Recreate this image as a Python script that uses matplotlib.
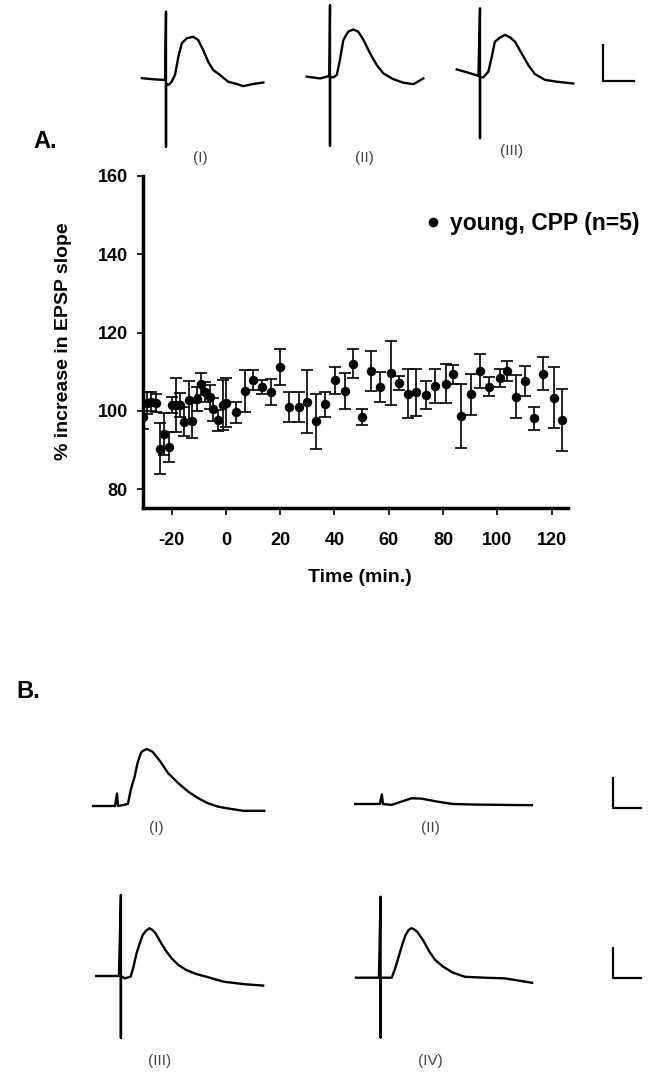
import matplotlib
matplotlib.use('Agg')
import matplotlib.pyplot as plt
from matplotlib.lines import Line2D

plt.rcParams['font.family'] = ['Liberation Sans', 'DejaVu Sans']
plt.rcParams['axes.unicode_minus'] = False

# EPSP slope time course, young + CPP (n=5)
time_min = [-30.4, -29.1, -27.5, -25.7, -24.2, -22.6, -21.0, -19.9, -18.3, -16.8,
            -15.4, -13.6, -12.3, -10.6, -9.3, -7.5, -5.9, -4.7, -2.8, -1.2,
            0.0, 3.7, 7.0, 10.1, 13.2, 16.7, 20.0, 23.3, 26.8, 29.9,
            33.2, 36.7, 40.2, 43.7, 46.9, 50.0, 53.6, 56.8, 60.7, 63.8,
            66.9, 70.2, 73.7, 77.0, 81.1, 83.8, 86.7, 90.1, 93.5, 96.9,
            101.1, 103.7, 106.7, 110.1, 113.6, 116.9, 121.0, 123.7]
epsp_pct = [98.5, 102.1, 102.4, 101.9, 90.3, 94.1, 90.8, 101.5, 101.5, 101.5,
            97.2, 102.7, 97.5, 103.0, 106.9, 104.9, 103.6, 100.4, 97.6, 101.5,
            102.1, 99.6, 105.1, 107.9, 106.2, 104.8, 111.2, 101.0, 101.0, 102.4,
            97.3, 101.7, 107.8, 105.1, 112.0, 98.5, 110.2, 106.2, 109.6, 107.2,
            104.4, 104.8, 104.1, 106.4, 106.9, 109.3, 98.7, 104.2, 110.2, 106.2,
            108.3, 110.2, 103.6, 107.6, 98.1, 109.5, 103.4, 97.6]
epsp_sem = [3.0, 2.8, 2.5, 2.3, 6.5, 5.3, 3.8, 2.0, 6.8, 3.0,
            3.7, 5.0, 4.5, 3.0, 2.8, 2.5, 3.0, 3.0, 2.7, 6.4,
            6.2, 2.6, 5.3, 2.6, 1.8, 3.3, 4.5, 3.9, 3.9, 8.1,
            7.0, 3.2, 3.5, 4.6, 3.7, 2.0, 5.0, 3.8, 8.2, 1.8,
            6.2, 6.0, 3.6, 4.3, 5.0, 2.5, 8.2, 5.3, 4.3, 2.5,
            2.3, 2.6, 5.5, 3.9, 3.0, 4.2, 7.8, 7.9]

# sample traces: ms from stimulus, mV from baseline
a1_t = [-7.8, -4.1, -0.3, 0.0, 0.0, 0.0, 0.75, 1.8, 2.9, 4.0, 5.1, 6.7, 8.8, 10.4, 12.0,
        13.6, 15.2, 17.4, 20.1, 22.8, 24.9, 28.2, 31.4]
a1_v = [0.05, 0.02, 0.0, 1.9, -1.85, -0.1, -0.14, -0.05, 0.14, 0.65, 1.02, 1.16, 1.2, 1.11,
        0.83, 0.51, 0.28, 0.14, -0.05, -0.11, -0.17, -0.11, -0.07]
a2_t = [-7.5, -3.2, -0.2, 0.0, 0.0, 0.0, 1.1, 2.2, 3.2, 4.3, 5.9, 7.5, 9.1, 10.8, 12.9,
        15.1, 17.2, 20.4, 23.7, 26.9, 30.1]
a2_v = [0.01, -0.04, 0.03, 2.0, -1.91, 0.0, -0.01, 0.06, 0.47, 1.03, 1.26, 1.32, 1.26, 1.03,
        0.66, 0.33, 0.1, -0.06, -0.16, -0.2, -0.04]
a3_t = [-7.5, -3.8, -0.5, 0.0, 0.0, 0.0, 1.1, 2.7, 3.8, 4.8, 6.5, 8.1, 9.7, 11.3, 13.4,
        15.6, 17.7, 21.0, 24.7, 30.1]
a3_v = [0.21, 0.12, 0.03, 1.91, -1.7, 0.0, -0.01, 0.15, 0.56, 0.98, 1.1, 1.17, 1.1, 0.98,
        0.66, 0.33, 0.08, -0.08, -0.13, -0.18]
b1_t = [-8.5, -0.7, 0.0, 0.36, 2.1, 3.9, 4.9, 6.3, 7.3, 8.5, 9.1, 10.6, 12.7, 15.5, 18.3,
        21.9, 25.4, 29.0, 32.5, 36.0, 39.5, 45.1, 52.6]
b1_v = [0.0, 0.0, 0.42, 0.0, 0.03, 0.07, 0.53, 0.98, 1.42, 1.76, 1.83, 1.9, 1.81, 1.48, 1.09,
        0.76, 0.48, 0.26, 0.09, -0.02, -0.08, -0.16, -0.16]
b2_t = [-9.9, -0.7, 0.0, 0.43, 3.5, 7.0, 10.6, 14.1, 19.8, 25.4, 33.9, 53.6]
b2_v = [0.0, 0.0, 0.32, 0.0, -0.03, 0.08, 0.19, 0.18, 0.08, 0.0, -0.02, -0.04]
b3_t = [-8.8, -0.7, 0.0, 0.0, 0.0, 1.4, 3.5, 4.5, 5.6, 6.8, 7.8, 9.2, 10.2, 11.3, 12.4,
        14.1, 16.3, 18.4, 20.5, 23.3, 26.8, 31.1, 36.7, 43.8, 50.8]
b3_v = [0.0, 0.0, 2.7, -2.06, 0.0, -0.08, -0.02, 0.31, 0.76, 1.11, 1.37, 1.53, 1.59, 1.53,
        1.42, 1.14, 0.81, 0.56, 0.37, 0.2, 0.07, -0.04, -0.19, -0.27, -0.32]
b4_t = [-8.8, -0.6, 0.0, 0.0, 0.0, 4.0, 5.4, 6.8, 7.9, 8.9, 10.0, 11.0, 12.0, 13.1, 15.3,
        17.4, 19.5, 22.3, 25.8, 30.1, 37.1, 44.2, 54.1]
b4_v = [0.0, 0.0, 2.7, -1.99, 0.0, 0.0, 0.37, 0.81, 1.15, 1.42, 1.59, 1.65, 1.61, 1.53, 1.23,
        0.87, 0.59, 0.37, 0.17, 0.03, 0.0, -0.02, -0.17]

# scale bars: 10 ms, 1 mV
bar_t = [0, 0, 10]
bar_v = [1, 0, 0]

W, H = 663, 1079
fig = plt.figure(figsize=(W / 100, H / 100), dpi=100)


def px_box(left, top, w, h):
    return [left / W, 1 - (top + h) / H, w / W, h / H]


def trace_ax(x0, y0, xpx, ypx, xlim, ylim):
    # x0,y0 = pixel position of (0 ms, 0 mV)
    w = (xlim[1] - xlim[0]) * xpx
    h = (ylim[1] - ylim[0]) * ypx
    ax = fig.add_axes(px_box(x0 + xlim[0] * xpx, y0 - ylim[1] * ypx, w, h))
    ax.set_xlim(xlim)
    ax.set_ylim(ylim)
    ax.axis('off')
    return ax


# ---- top sample traces
a_lim = ((-10, 35), (-2.2, 2.2))
for t, v, x0, y0 in [(a1_t, a1_v, 166, 80), (a2_t, a2_v, 330, 77), (a3_t, a3_v, 480, 77)]:
    tx = trace_ax(x0, y0, 3.1, 36, *a_lim)
    tx.plot(t, v, color='k', lw=1.7)
sb = trace_ax(603, 80.7, 3.1, 36, (-1, 11), (-0.2, 1.2))
sb.plot(bar_t, bar_v, color='k', lw=1.6)

lab_kw = dict(fontsize=11, color='#444444', ha='center', va='center')
for s, x, y in [('(I)', 200, 158), ('(II)', 364, 158), ('(III)', 512, 151)]:
    fig.text(x / W, 1 - y / H, s, **lab_kw)

fig.text(45 / W, 1 - 141 / H, 'A.', fontsize=17, fontweight='bold', ha='center', va='center')

# ---- time course
ax = fig.add_axes(px_box(143, 176, 425, 332))
ax.errorbar(time_min, epsp_pct, yerr=epsp_sem, fmt='o', color='k', ms=5.8,
            ecolor='k', elinewidth=1.2, capsize=4, capthick=1.2)
ax.set_xlim(-30.5, 126)
ax.set_ylim(75.2, 160)
ax.set_xticks(range(-20, 121, 20))
ax.set_yticks(range(80, 161, 20))
for s in ['top', 'right']:
    ax.spines[s].set_visible(False)
for s in ['left', 'bottom']:
    ax.spines[s].set_linewidth(2.5)
ax.tick_params(axis='x', direction='out', length=5, width=1.2, labelsize=13, pad=12)
ax.tick_params(axis='y', direction='out', length=4, width=1.2, labelsize=13, pad=7)
for lab in ax.get_xticklabels() + ax.get_yticklabels():
    lab.set_fontweight('bold')

fig.text(64 / W, 1 - 341 / H, '% increase in EPSP slope', rotation=90, fontsize=14,
         fontweight='bold', ha='center', va='center')
fig.text(360 / W, 1 - 577 / H, 'Time (min.)', fontsize=14, fontweight='bold',
         ha='center', va='center')

handle = Line2D([], [], marker='o', ls='none', color='k', ms=6)
ax.legend([handle], ['young, CPP (n=5)'], loc='center left', frameon=False,
          bbox_to_anchor=(423 / W, 1 - 224 / H), bbox_transform=fig.transFigure,
          prop={'weight': 'bold', 'size': 16.5}, handlelength=0.9, handletextpad=0.3,
          borderaxespad=0, borderpad=0)

# ---- panel B traces
fig.text(28 / W, 1 - 692 / H, 'B.', fontsize=17, fontweight='bold', ha='center', va='center')
b_lim = ((-10, 56), (-2.3, 2.9))
for t, v, x0, y0 in [(b1_t, b1_v, 117, 806), (b2_t, b2_v, 381.8, 804),
                     (b3_t, b3_v, 120.9, 976), (b4_t, b4_v, 380.6, 977.7)]:
    tx = trace_ax(x0, y0, 2.8, 30, *b_lim)
    tx.plot(t, v, color='k', lw=1.7)
for y0 in [808, 978]:
    sb = trace_ax(613, y0, 2.8, 30, (-1, 11), (-0.2, 1.2))
    sb.plot(bar_t, bar_v, color='k', lw=1.6)

for s, x, y in [('(I)', 156, 828), ('(II)', 430, 828), ('(III)', 160, 1061), ('(IV)', 430, 1061)]:
    fig.text(x / W, 1 - y / H, s, **lab_kw)

fig.savefig('out.png', dpi=100)
